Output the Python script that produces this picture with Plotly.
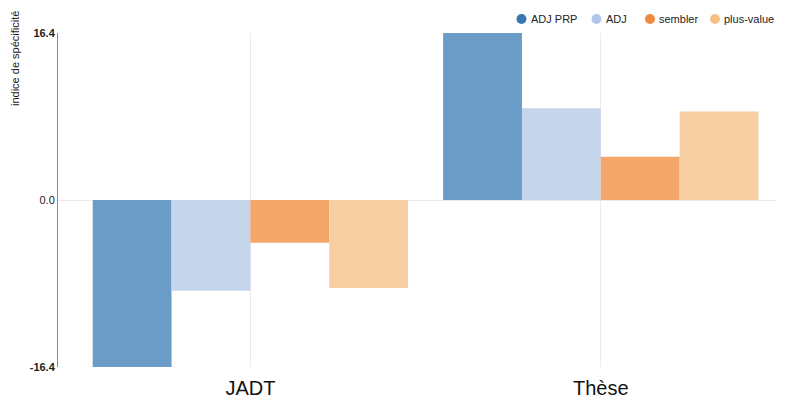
import plotly.graph_objects as go

categories = ["JADT", "Thèse"]
series_names = ["ADJ PRP", "ADJ", "sembler", "plus-value"]
adj_prp = [-16.4, 16.4]
adj = [-8.9, 9.0]
sembler = [-4.2, 4.25]
plus_value = [-8.65, 8.7]
y_ticks = [-16.4, 0.0, 16.4]
y_tick_labels = ["<b>-16.4</b>", "0.0", "<b>16.4</b>"]
y_title = "indice de spécificité"

bar_colors = ["#6b9bc7", "#c5d6ec", "#f4a76b", "#f8cfa3"]
dot_colors = ["#3a76b3", "#aec7e8", "#f08a3c", "#f7bf88"]
values = [adj_prp, adj, sembler, plus_value]

W, H = 790, 416
L, R, T, B = 58, 14, 33, 49
FONT = "Liberation Sans, Arial, sans-serif"

fig = go.Figure()
for name, vals, col in zip(series_names, values, bar_colors):
    fig.add_trace(go.Bar(x=categories, y=vals, name=name, marker=dict(color=col, line=dict(width=0)),
                         showlegend=False))

pw = W - L - R
ph = H - T - B
def px_x(p):
    return (p - L) / pw
def px_y(p):
    return (H - B - p) / ph

# manual legend
legend_x = [521.5, 596.5, 650, 715]
shapes = []
annotations = []
for name, col, lx in zip(series_names, dot_colors, legend_x):
    shapes.append(dict(type="circle", xref="paper", yref="paper",
                       x0=px_x(lx - 5), x1=px_x(lx + 5), y0=px_y(24), y1=px_y(14),
                       fillcolor=col, line=dict(width=0)))
    annotations.append(dict(text=name, xref="paper", yref="paper", x=px_x(lx + 7), y=px_y(19),
                            xanchor="left", yanchor="middle", showarrow=False,
                            font=dict(size=11, color="#222", family=FONT)))

annotations.append(dict(text=y_title, xref="paper", yref="paper", x=px_x(15), y=px_y(59),
                        xanchor="center", yanchor="middle", textangle=-90, showarrow=False,
                        font=dict(size=11, color="#222", family=FONT)))

fig.update_layout(
    width=W, height=H,
    margin=dict(l=L, r=R, t=T, b=B, pad=0),
    paper_bgcolor="white", plot_bgcolor="white",
    barmode="group", bargap=0.1, bargroupgap=0,
    font=dict(family=FONT, color="#222"),
    shapes=shapes, annotations=annotations,
    xaxis=dict(range=[-0.549, 1.5], showgrid=True, gridcolor="#ebebeb", gridwidth=1,
               showline=False, zeroline=False, ticks="", ticklabelstandoff=7,
               tickfont=dict(size=20, color="#111", family=FONT)),
    yaxis=dict(range=[-16.4, 16.4], tickvals=y_ticks, ticktext=y_tick_labels,
               showgrid=False, zeroline=True, zerolinecolor="#ebebeb", zerolinewidth=1,
               showline=True, linecolor="#888", linewidth=1, ticks="",
               tickfont=dict(size=11, color="#222", family=FONT)),
)

fig.write_html("out.html", config={"displayModeBar": False},
               post_script="document.body.style.margin='0';")
